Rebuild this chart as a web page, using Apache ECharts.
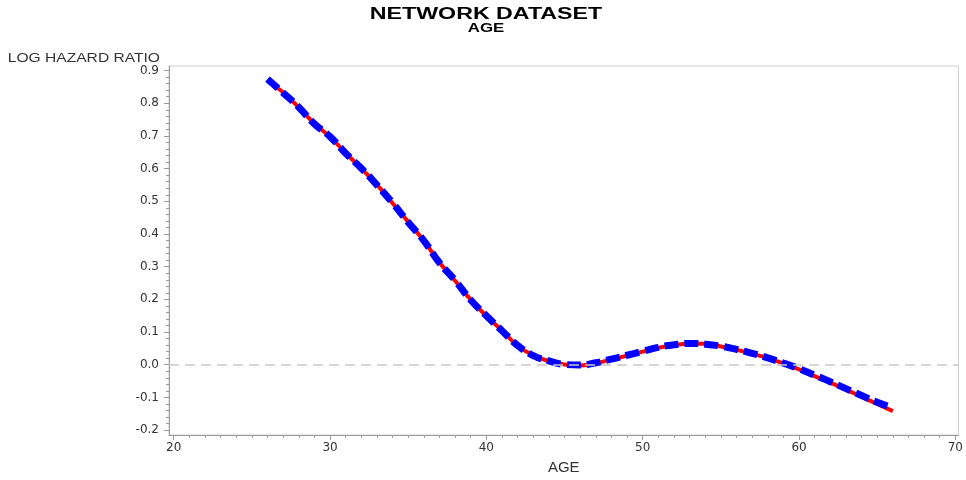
<!DOCTYPE html>
<html>
<head>
<meta charset="utf-8">
<script src="https://cdn.jsdelivr.net/npm/echarts@6/dist/echarts.min.js"></script>
<style>
  html, body { margin: 0; padding: 0; background: #ffffff; }
  #chart { width: 966px; height: 480px; }
</style>
</head>
<body>
<div id="chart"></div>
<script>
// Age grid (years) for the fitted log hazard ratio curves
const ages = [26, 27, 28, 29, 30, 31, 32, 33, 34, 35, 36, 37, 38, 39, 40, 41, 42, 43, 44, 45, 46,
              47, 48, 49, 50, 51, 52, 53, 54, 55, 56, 57, 58, 59, 60, 61, 62, 63, 64, 65, 66];

// Solid red curve
const solidFit = [0.872, 0.833, 0.787, 0.738, 0.697, 0.648, 0.600, 0.551, 0.494, 0.437, 0.379,
                  0.313, 0.257, 0.199, 0.149, 0.105, 0.058, 0.029, 0.011, 0.001, -0.002,
                  0.005, 0.016, 0.028, 0.040, 0.052, 0.060, 0.064, 0.064, 0.056, 0.046,
                  0.034, 0.020, 0.004, -0.014, -0.035, -0.055, -0.076, -0.098, -0.120, -0.142];

// Dashed blue curve
const dashedFit = [0.874, 0.832, 0.788, 0.737, 0.698, 0.647, 0.601, 0.550, 0.495, 0.436, 0.380,
                   0.312, 0.258, 0.198, 0.150, 0.104, 0.059, 0.028, 0.012, 0.001, -0.001,
                   0.006, 0.017, 0.029, 0.041, 0.053, 0.061, 0.065, 0.063, 0.057, 0.047,
                   0.035, 0.021, 0.005, -0.012, -0.032, -0.052, -0.073, -0.094, -0.115, -0.132];

// Axis tick labels
const xTicks = [20, 30, 40, 50, 60, 70];
const yTicks = [-0.2, -0.1, 0.0, 0.1, 0.2, 0.3, 0.4, 0.5, 0.6, 0.7, 0.8, 0.9];

const xMinor = [];
for (let v = 20; v <= 70; v += 1) xMinor.push(v);
const yMinor = [];
for (let i = -10; i <= 45; i++) yMinor.push(+(i * 0.02).toFixed(2));

const pairs = (xs, ys) => xs.map((x, i) => [x, ys[i]]);

const axisGray = '#9a9a9a';
const labelColor = '#333333';
const font = 'Liberation Sans, Arial, sans-serif';
const tickFont = 'DejaVu Sans, sans-serif';

const chart = echarts.init(document.getElementById('chart'), null, { renderer: 'canvas' });

chart.setOption({
  animation: false,
  backgroundColor: '#ffffff',
  graphic: [
    {
      type: 'text', x: 486, y: 15, scaleX: 1.45, originX: 0, originY: 0,
      style: {
        text: 'NETWORK DATASET', fill: '#000000',
        font: 'bold 16px ' + font, align: 'center', verticalAlign: 'middle'
      }
    },
    {
      type: 'text', x: 486, y: 29, scaleX: 1.4, originX: 0, originY: 0,
      style: {
        text: 'AGE', fill: '#000000',
        font: 'bold 12px ' + font, align: 'center', verticalAlign: 'middle'
      }
    },
    {
      type: 'text', x: 160, y: 58, scaleX: 1.2, originX: 0, originY: 0,
      style: {
        text: 'LOG HAZARD RATIO', fill: labelColor,
        font: '13px ' + font, align: 'right', verticalAlign: 'middle'
      }
    }
  ],
  grid: {
    left: 169, right: 4, top: 66, bottom: 44,
    show: true, borderColor: '#cfcfcf', borderWidth: 1, backgroundColor: 'transparent'
  },
  xAxis: [
    {
      type: 'value',
      min: 19.7, max: 70.2,
      position: 'bottom',
      name: 'AGE',
      nameLocation: 'middle',
      nameGap: 25,
      nameTextStyle: { fontFamily: font, fontSize: 15, color: labelColor },
      splitLine: { show: false },
      axisLine: { show: true, onZero: false, lineStyle: { color: axisGray, width: 1 } },
      axisTick: { show: true, customValues: xTicks, length: 5, lineStyle: { color: axisGray } },
      axisLabel: {
        customValues: xTicks, margin: 7,
        fontFamily: tickFont, fontSize: 12, color: labelColor,
        formatter: v => String(Math.round(v))
      }
    },
    {
      type: 'value',
      min: 19.7, max: 70.2,
      position: 'bottom',
      splitLine: { show: false },
      axisLine: { show: false, onZero: false },
      axisLabel: { show: false },
      axisTick: { show: true, customValues: xMinor, length: 3, lineStyle: { color: axisGray } }
    }
  ],
  yAxis: [
    {
      type: 'value',
      min: -0.215, max: 0.914,
      position: 'left',
      splitLine: { show: false },
      axisLine: { show: true, onZero: false, lineStyle: { color: axisGray, width: 1 } },
      axisTick: { show: true, customValues: yTicks, length: 5, lineStyle: { color: axisGray } },
      axisLabel: {
        customValues: yTicks, margin: 10,
        fontFamily: tickFont, fontSize: 12, color: labelColor,
        formatter: v => v.toFixed(1)
      }
    },
    {
      type: 'value',
      min: -0.215, max: 0.914,
      position: 'left',
      splitLine: { show: false },
      axisLine: { show: false, onZero: false },
      axisLabel: { show: false },
      axisTick: { show: true, customValues: yMinor, length: 3, lineStyle: { color: axisGray } }
    }
  ],
  series: [
    {
      type: 'line',
      xAxisIndex: 0, yAxisIndex: 0,
      data: pairs(ages, solidFit),
      smooth: true,
      showSymbol: false,
      lineStyle: { color: '#ff0000', width: 4 },
      markLine: {
        silent: true,
        symbol: ['none', 'none'],
        label: { show: false },
        lineStyle: { color: '#c8c8c8', type: [10, 6], width: 1.5 },
        data: [{ yAxis: 0 }]
      },
      z: 2
    },
    {
      type: 'line',
      xAxisIndex: 0, yAxisIndex: 0,
      data: pairs(ages, dashedFit),
      smooth: true,
      showSymbol: false,
      lineStyle: { color: '#0000ff', width: 7, type: [14, 6], cap: 'butt' },
      z: 3
    }
  ]
});
</script>
</body>
</html>
